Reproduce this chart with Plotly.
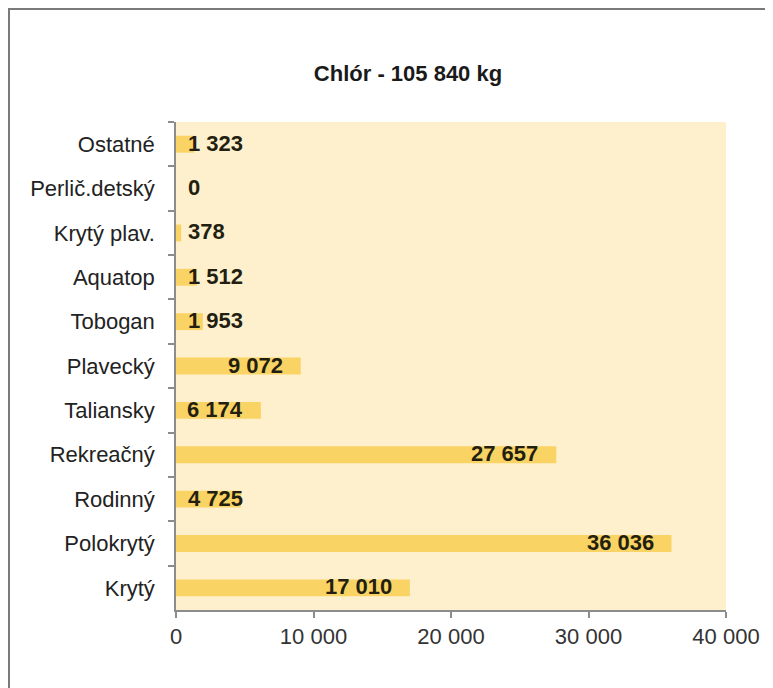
import plotly.graph_objects as go

# ---- data ----
categories = ["Ostatné", "Perlič.detský", "Krytý plav.", "Aquatop", "Tobogan",
              "Plavecký", "Taliansky", "Rekreačný", "Rodinný", "Polokrytý", "Krytý"]
values = [1323, 0, 378, 1512, 1953, 9072, 6174, 27657, 4725, 36036, 17010]
x_ticks = [0, 10000, 20000, 30000, 40000]
x_tick_labels = ["0", "10 000", "20 000", "30 000", "40 000"]
title_text = "Chlór - 105 840 kg"

FONT = "Liberation Sans, Arial, sans-serif"
BAR = "#FAD365"
BG = "#FEF0CD"
OFF = 8  # page body margin offset


def fmt(v):
    return f"{v:,}".replace(",", " ")


fig = go.Figure()
fig.add_trace(go.Bar(
    x=values, y=categories, orientation="h",
    marker=dict(color=BAR, line=dict(width=0)),
    hoverinfo="skip",
))

# data labels: inside end for long bars, next to base for short ones
for c, v in zip(categories, values):
    if v >= 6000:
        fig.add_annotation(x=v, y=c, xref="x", yref="y", text=fmt(v),
                           xanchor="right", xshift=-16, yshift=1, showarrow=False,
                           font=dict(family=FONT, size=22, color="#231f10", weight="bold"))
    else:
        fig.add_annotation(x=0, y=c, xref="x", yref="y", text=fmt(v),
                           xanchor="left", xshift=10, yshift=1, showarrow=False,
                           font=dict(family=FONT, size=22, color="#231f10", weight="bold"))

# target pixel positions in the screenshot
L, R, T, B = 176, 726, 122, 610
W, H = R - L, B - T
fig.add_shape(type="rect", xref="paper", yref="paper",
              x0=(9 - L) / W, x1=(800 - L) / W,
              y0=(B - 720) / H, y1=(B - 9) / H,
              line=dict(color="#7a7a7a", width=2), fillcolor="rgba(0,0,0,0)", layer="below")

FW, FH = 773, 688
fig.update_layout(
    width=FW, height=FH,
    margin=dict(l=L - OFF, r=FW - (R - OFF), t=T - OFF, b=FH - (B - OFF)),
    paper_bgcolor="white", plot_bgcolor=BG,
    bargap=0.62,
    showlegend=False,
    separators=". ",
    title=dict(text=title_text, x=(408 - OFF) / FW, xanchor="center",
               y=1 - (73 - OFF) / FH, yanchor="middle",
               font=dict(family=FONT, size=22, color="#1a1a1a", weight="bold")),
    font=dict(family=FONT, size=22, color="#222222"),
    xaxis=dict(range=[0, 40000], tickvals=x_ticks, ticktext=x_tick_labels,
               showgrid=False, zeroline=False, showline=True, linecolor="#8c8c8c", linewidth=1.5,
               ticks="outside", ticklen=6, tickcolor="#8c8c8c", tickwidth=1.5,
               tickfont=dict(family=FONT, size=22, color="#333333"), ticklabelstandoff=0),
    yaxis=dict(autorange="reversed", type="category", tickson="boundaries",
               showgrid=False, zeroline=False, showline=True, linecolor="#8c8c8c", linewidth=1.5,
               ticks="outside", ticklen=6, tickcolor="#8c8c8c", tickwidth=1.5,
               tickfont=dict(family=FONT, size=22, color="#222222"), ticklabelstandoff=15),
)

fig.write_html("out.html")
